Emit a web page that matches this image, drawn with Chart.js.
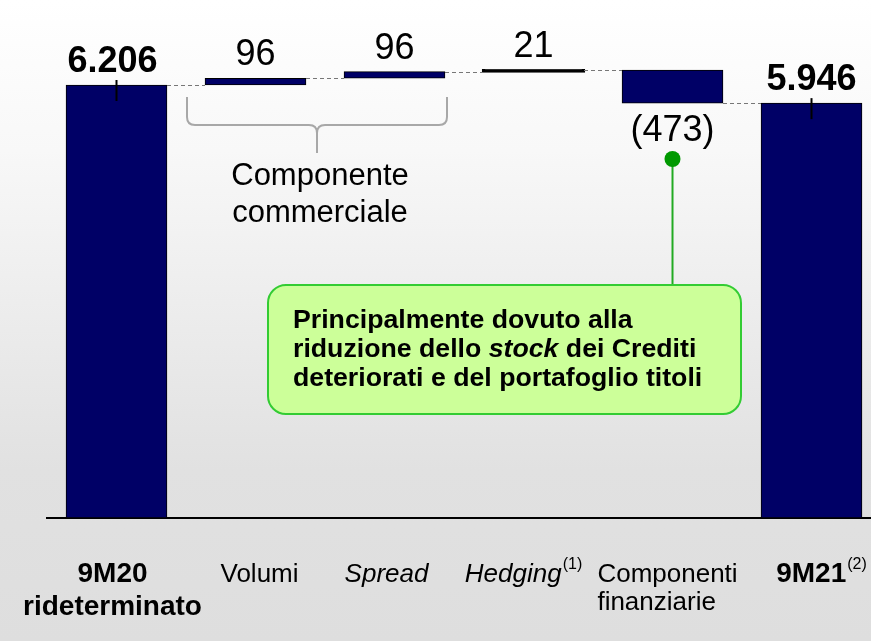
<!DOCTYPE html>
<html>
<head>
<meta charset="utf-8">
<script src="https://cdn.jsdelivr.net/npm/chart.js@4"></script>
<style>
  html, body { margin: 0; padding: 0; }
  body {
    width: 871px; height: 641px; overflow: hidden;
    background: linear-gradient(to bottom, #ffffff 0px, #f8f8f8 150px, #ebebeb 330px, #e1e1e1 470px, #dedede 641px);
  }
</style>
</head>
<body>
<canvas id="myChart" width="871" height="641"></canvas>
<script>
// data
var categories = ['9M20 rideterminato', 'Volumi', 'Spread', 'Hedging', 'Componenti finanziarie', '9M21'];
var labelLines = [['9M20', 'rideterminato'], ['Volumi'], ['Spread'], ['Hedging'], ['Componenti', 'finanziarie'], ['9M21']];
var footnotes = ['', '', '', '(1)', '', '(2)'];
var values = [6206, 96, 96, 21, -473, 5946];
var isTotal = [true, false, false, false, false, true];
var valueLabels = ['6.206', '96', '96', '21', '(473)', '5.946'];
var yRange = [0, 7000];
var braceText = ['Componente', 'commerciale'];
var noteText = [
  [['Principalmente dovuto alla', false]],
  [['riduzione dello ', false], ['stock', true], [' dei Crediti', false]],
  [['deteriorati e del portafoglio titoli', false]]
];

// floating bars for the waterfall
var running = 0;
var levels = [];
var bars = values.map(function (v, i) {
  var lo;
  if (isTotal[i]) { lo = 0; running = v; }
  else { lo = running; running = running + v; }
  levels.push(running);
  return { x: i, y: [lo, running] };
});

var FONT = "'Liberation Sans', Arial, sans-serif";
var italicIdx = [2, 3];
var leftAlignIdx = [4];
var labelNudge = [-4, 4, -8, -10, -5, 10]; // labels sit a bit off centre in the original

// extra drawing: connectors, labels, brace, callout
var extras = {
  id: 'extras',
  afterDatasetsDraw: function (chart) {
    var ctx = chart.ctx;
    var xs = chart.scales.x, ys = chart.scales.y;
    var els = chart.getDatasetMeta(0).data;
    ctx.save();

    // dashed connectors
    ctx.strokeStyle = '#777777';
    ctx.lineWidth = 1;
    ctx.setLineDash([4, 3]);
    for (var i = 0; i < els.length - 1; i++) {
      var yl = Math.round(ys.getPixelForValue(levels[i])) + 0.5;
      ctx.beginPath();
      ctx.moveTo(els[i].x + els[i].width / 2, yl);
      ctx.lineTo(els[i + 1].x - els[i + 1].width / 2, yl);
      ctx.stroke();
    }
    ctx.setLineDash([]);

    // marks on the totals
    ctx.strokeStyle = '#000';
    ctx.lineWidth = 2;
    els.forEach(function (el, i) {
      if (!isTotal[i]) return;
      ctx.beginPath();
      ctx.moveTo(el.x, el.y - 5);
      ctx.lineTo(el.x, el.y + 16);
      ctx.stroke();
    });

    // value labels
    ctx.fillStyle = '#000';
    ctx.textAlign = 'center';
    ctx.textBaseline = 'alphabetic';
    els.forEach(function (el, i) {
      ctx.font = (isTotal[i] ? 'bold ' : '') + '36px ' + FONT;
      if (values[i] >= 0) {
        ctx.fillText(valueLabels[i], el.x - (i === 0 ? 4 : 0), Math.min(el.y, el.base) - 13);
      } else {
        ctx.fillText(valueLabels[i], el.x, Math.max(el.y, el.base) + 38);
      }
    });

    // category labels under the axis
    labelLines.forEach(function (lines, i) {
      var cx = xs.getPixelForValue(i) + labelNudge[i];
      var bold = isTotal[i];
      var italic = italicIdx.indexOf(i) >= 0;
      var mainFont = (italic ? 'italic ' : '') + (bold ? 'bold 28px ' : '26px ') + FONT;
      var lh = bold ? 33 : 28;
      ctx.font = mainFont;
      var firstW = ctx.measureText(lines[0]).width;
      lines.forEach(function (t, k) {
        var base = 582 + k * lh;
        ctx.font = mainFont;
        var w = ctx.measureText(t).width;
        var sw = 0;
        if (k === 0 && footnotes[i]) {
          ctx.font = '16px ' + FONT;
          sw = ctx.measureText(footnotes[i]).width + 1;
        }
        var left = leftAlignIdx.indexOf(i) >= 0 ? cx - firstW / 2 : cx - (w + sw) / 2;
        ctx.textAlign = 'left';
        ctx.font = mainFont;
        ctx.fillText(t, left, base);
        if (sw) {
          ctx.font = '16px ' + FONT;
          ctx.fillText(footnotes[i], left + w + 1, base - 13);
        }
      });
    });

    // brace over the commercial component
    ctx.strokeStyle = '#a8a8a8';
    ctx.lineWidth = 2;
    var bl = 187, br = 447, bt = 97, bh = 125, bc = 317, bb = 153;
    ctx.beginPath();
    ctx.moveTo(bl, bt);
    ctx.lineTo(bl, bh - 8);
    ctx.quadraticCurveTo(bl, bh, bl + 8, bh);
    ctx.lineTo(bc - 8, bh);
    ctx.quadraticCurveTo(bc, bh, bc, bh + 8);
    ctx.lineTo(bc, bb);
    ctx.moveTo(br, bt);
    ctx.lineTo(br, bh - 8);
    ctx.quadraticCurveTo(br, bh, br - 8, bh);
    ctx.lineTo(bc + 8, bh);
    ctx.quadraticCurveTo(bc, bh, bc, bh + 8);
    ctx.stroke();
    ctx.fillStyle = '#000';
    ctx.textAlign = 'center';
    ctx.font = '31px ' + FONT;
    ctx.fillText(braceText[0], 320, 185);
    ctx.fillText(braceText[1], 320, 222);

    // callout
    var px = xs.getPixelForValue(4);
    ctx.strokeStyle = '#22aa22';
    ctx.lineWidth = 2;
    ctx.beginPath();
    ctx.moveTo(px, 159);
    ctx.lineTo(px, 286);
    ctx.stroke();
    ctx.fillStyle = '#009900';
    ctx.beginPath();
    ctx.arc(px, 159, 8, 0, Math.PI * 2);
    ctx.fill();

    ctx.beginPath();
    ctx.roundRect(268, 285, 473, 129, 18);
    ctx.fillStyle = '#ccff99';
    ctx.fill();
    ctx.strokeStyle = '#33cc33';
    ctx.lineWidth = 2;
    ctx.stroke();

    ctx.fillStyle = '#000';
    ctx.textAlign = 'left';
    noteText.forEach(function (parts, k) {
      var x = 293;
      parts.forEach(function (p) {
        ctx.font = (p[1] ? 'italic ' : '') + 'bold 26.7px ' + FONT;
        ctx.fillText(p[0], x, 328 + k * 29);
        x += ctx.measureText(p[0]).width;
      });
    });

    ctx.restore();
  }
};

var ctx = document.getElementById('myChart').getContext('2d');
var myChart = new Chart(ctx, {
  type: 'bar',
  data: {
    labels: categories,
    datasets: [{
      data: bars,
      backgroundColor: function (c) { return Math.abs(values[c.dataIndex]) < 50 ? '#000000' : '#000066'; },
      borderColor: '#000',
      borderWidth: 1,
      borderSkipped: false,
      inflateAmount: function (c) { return Math.abs(values[c.dataIndex]) < 50 ? 1.2 : 0.3; },
      barThickness: 101
    }]
  },
  plugins: [extras],
  options: {
    responsive: false,
    animation: false,
    layout: { padding: { left: 47, right: 0, top: 29.6, bottom: 123 } },
    plugins: {
      legend: { display: false },
      tooltip: { enabled: false }
    },
    scales: {
      x: {
        type: 'linear',
        offset: false,
        min: -0.5,
        max: 5.428,
        grid: { display: false, drawTicks: false, offset: false },
        ticks: { display: false },
        border: { display: true, color: '#000', width: 2 }
      },
      y: { display: false, min: yRange[0], max: yRange[1] }
    }
  }
});
</script>
</body>
</html>
